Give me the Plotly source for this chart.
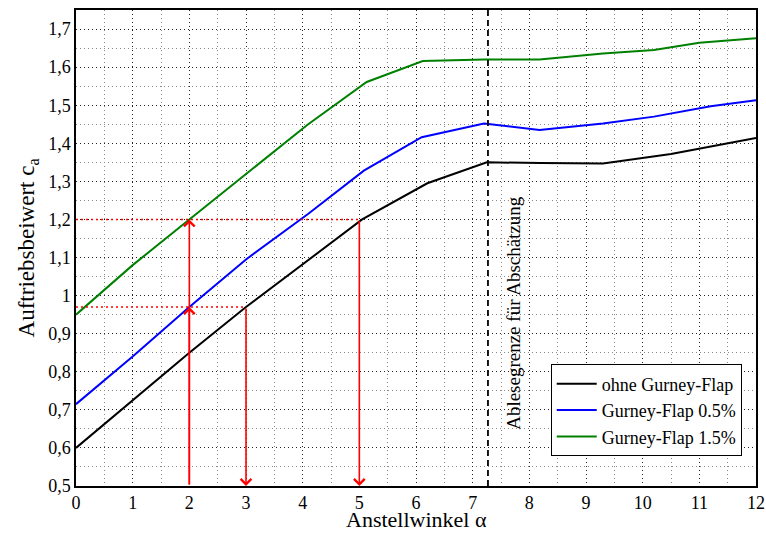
import plotly.graph_objects as go

# Anstellwinkel (deg) and Auftriebsbeiwert for the three configurations
alpha_ohne = [0, 1, 2, 3, 4.15, 5.05, 6.2, 7.25, 8.2, 9.3, 10.5, 12]
ca_ohne = [0.60, 0.725, 0.85, 0.97, 1.10, 1.20, 1.295, 1.35, 1.348, 1.347, 1.372, 1.414]

alpha_05 = [0, 1, 2, 3, 4.1, 5.08, 6.1, 7.2, 8.18, 9.3, 10.2, 11.2, 12]
ca_05 = [0.715, 0.84, 0.97, 1.095, 1.215, 1.328, 1.416, 1.452, 1.435, 1.452, 1.470, 1.497, 1.513]

alpha_15 = [0, 1, 2, 3, 4.08, 5.13, 6.12, 7.2, 8.18, 9.3, 10.2, 11.0, 12]
ca_15 = [0.95, 1.08, 1.20, 1.32, 1.448, 1.561, 1.616, 1.62, 1.62, 1.636, 1.645, 1.664, 1.676]

series = [
    ("ohne Gurney-Flap", alpha_ohne, ca_ohne, "#000000"),
    ("Gurney-Flap 0.5%", alpha_05, ca_05, "#0000ff"),
    ("Gurney-Flap 1.5%", alpha_15, ca_15, "#008000"),
]

# Reading limit and the example readings
ablese_grenze = 7.27
read_up_alpha = 2               # read upwards at alpha = 2
read_up_ca = [0.97, 1.20]
read_down = [(3, 0.97), (5, 1.20)]  # (alpha, ca) read back down to the alpha axis

x_ticks = list(range(0, 13))
y_ticks = [0.5, 0.6, 0.7, 0.8, 0.9, 1.0, 1.1, 1.2, 1.3, 1.4, 1.5, 1.6, 1.7]
y_labels = ["0,5", "0,6", "0,7", "0,8", "0,9", "1", "1,1", "1,2", "1,3", "1,4", "1,5", "1,6", "1,7"]

FONT = "Liberation Serif"
RED = "#ff0000"
Y_MIN = 0.5

fig = go.Figure()
for name, xs, ys, col in series:
    fig.add_trace(go.Scatter(x=xs, y=ys, mode="lines", name=name,
                             line=dict(color=col, width=2)))

# dotted horizontal guides from the ca axis to the reading points
for a, c in read_down:
    fig.add_shape(type="line", x0=0, x1=a, y0=c, y1=c,
                  line=dict(color=RED, width=1.5, dash="2px,3px"))

# upward reading arrows at alpha = 2
for c in read_up_ca:
    fig.add_annotation(x=read_up_alpha, y=c, ax=read_up_alpha, ay=Y_MIN,
                       xref="x", yref="y", axref="x", ayref="y", text="",
                       showarrow=True, arrowhead=4, arrowsize=1.3, arrowwidth=1.6,
                       arrowcolor=RED, standoff=0)
# downward reading arrows
for a, c in read_down:
    fig.add_annotation(x=a, y=Y_MIN, ax=a, ay=c,
                       xref="x", yref="y", axref="x", ayref="y", text="",
                       showarrow=True, arrowhead=4, arrowsize=1.3, arrowwidth=1.6,
                       arrowcolor=RED, standoff=0)

# reading limit
fig.add_shape(type="line", x0=ablese_grenze, x1=ablese_grenze, y0=0, y1=1,
              yref="paper", line=dict(color="black", width=1.8, dash="6px,4px"))
fig.add_annotation(x=ablese_grenze + 0.45, y=0.956, text="Ablesegrenze für Abschätzung",
                   textangle=-90, showarrow=False, xref="x", yref="y",
                   font=dict(family=FONT, size=19, color="black"))

# axis titles as free labels
fig.add_annotation(x=-0.07, y=0.5, xref="paper", yref="paper",
                   text="Auftriebsbeiwert c<sub>a</sub>", textangle=-90, showarrow=False,
                   xanchor="center", yanchor="middle",
                   font=dict(family=FONT, size=23, color="black"))
fig.add_annotation(x=0.5, y=-0.0714, xref="paper", yref="paper",
                   text="Anstellwinkel α", showarrow=False, borderpad=0,
                   xanchor="center", yanchor="middle",
                   font=dict(family=FONT, size=22, color="black"))

MAJOR_GRID = "#222222"
MINOR_GRID = "#888888"
axis_common = dict(showline=True, linecolor="black", linewidth=1.5, mirror=True,
                   ticks="", showgrid=True, gridcolor=MAJOR_GRID, griddash="1px,3px",
                   gridwidth=1, zeroline=False, automargin=False,
                   tickfont=dict(family=FONT, size=18, color="black"))

fig.update_xaxes(range=[0, 12], tickvals=x_ticks, ticktext=[str(t) for t in x_ticks],
                 minor=dict(dtick=0.5, showgrid=True, gridcolor=MINOR_GRID,
                            griddash="1px,3px", gridwidth=1),
                 **axis_common)
fig.update_yaxes(range=[0.5, 1.75], tickvals=y_ticks, ticktext=y_labels,
                 minor=dict(dtick=0.05, tick0=0.5, showgrid=True, gridcolor=MINOR_GRID,
                            griddash="1px,3px", gridwidth=1),
                 **axis_common)

fig.update_layout(
    width=766, height=533,
    margin=dict(l=76, r=10, t=10, b=47),
    paper_bgcolor="white", plot_bgcolor="white",
    showlegend=True,
    legend=dict(x=0.979, y=0.062, xanchor="right", yanchor="bottom",
                bgcolor="white", bordercolor="black", borderwidth=1,
                font=dict(family=FONT, size=18, color="black"),
                tracegroupgap=0, itemwidth=40),
    font=dict(family=FONT),
)

fig.write_html("out.html")
